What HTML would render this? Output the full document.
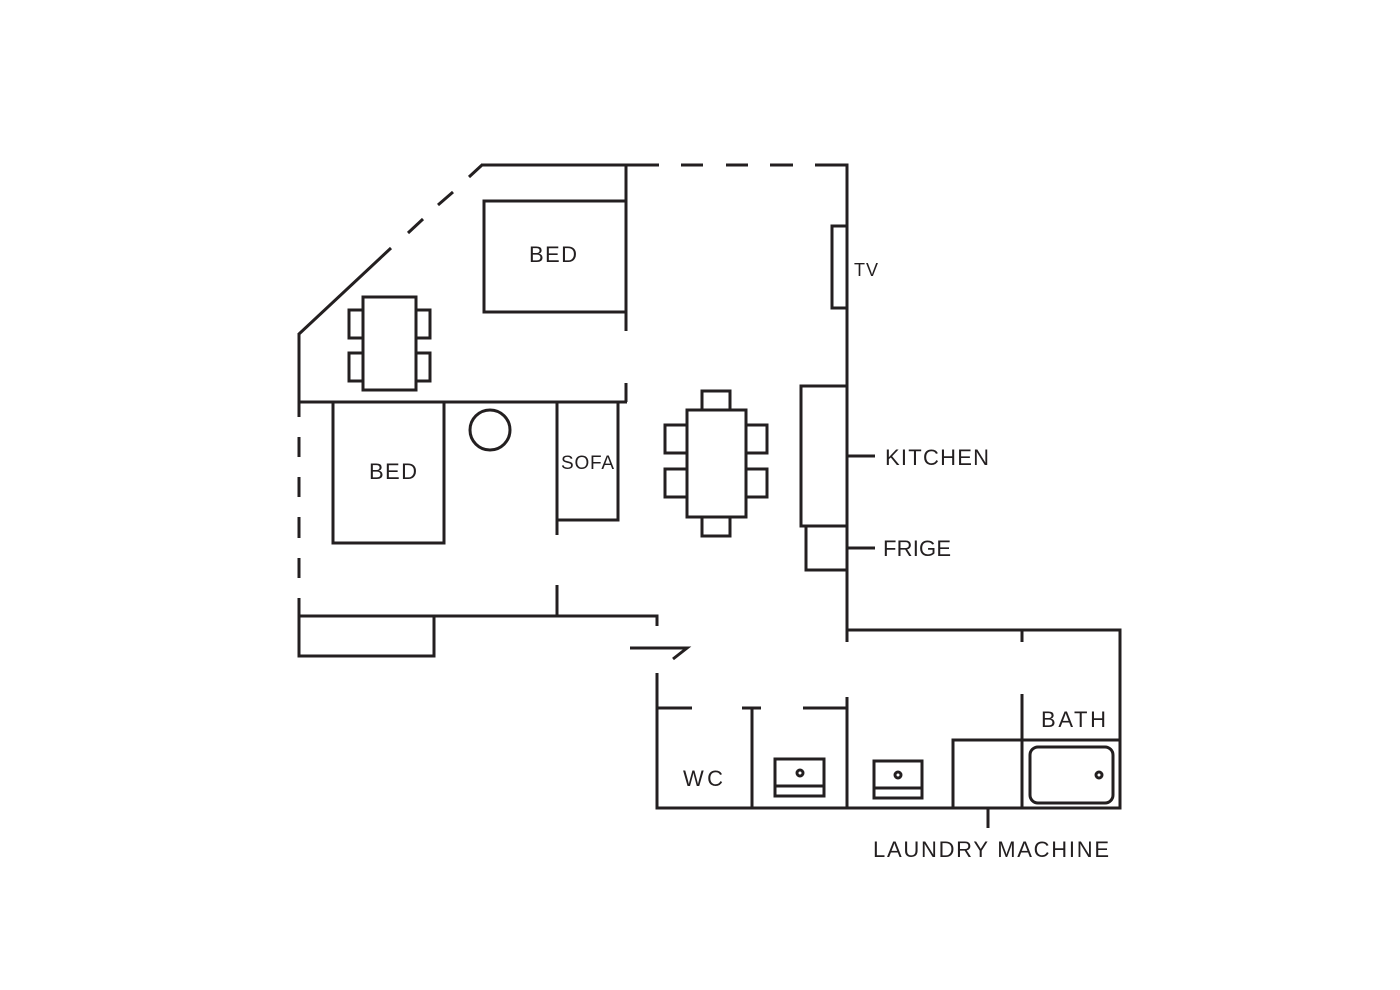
<!DOCTYPE html>
<html><head><style>html,body{margin:0;padding:0;background:#fff;}svg{display:block}</style></head><body>
<svg width="1400" height="990" viewBox="0 0 1400 990" xmlns="http://www.w3.org/2000/svg">
<g fill="none" stroke="#231f20" stroke-width="3" stroke-linecap="butt">
<!-- diagonal -->
<line x1="299" y1="334" x2="391" y2="248"/>
<line x1="408" y1="233" x2="423" y2="219"/>
<line x1="438" y1="205" x2="453" y2="192"/>
<line x1="469" y1="177" x2="482" y2="165"/>
<!-- top -->
<line x1="481" y1="165" x2="659" y2="165"/>
<line x1="681" y1="165" x2="703" y2="165"/>
<line x1="726" y1="165" x2="748" y2="165"/>
<line x1="770" y1="165" x2="793" y2="165"/>
<polyline points="815,165 847,165 847,642"/>
<!-- left wall -->
<line x1="299" y1="333" x2="299" y2="417"/>
<line x1="299" y1="437" x2="299" y2="457"/>
<line x1="299" y1="477" x2="299" y2="497"/>
<line x1="299" y1="517" x2="299" y2="538"/>
<line x1="299" y1="558" x2="299" y2="578"/>
<line x1="299" y1="598" x2="299" y2="657"/>
<!-- interior walls -->
<line x1="299" y1="402" x2="627" y2="402"/>
<line x1="626" y1="165" x2="626" y2="331"/>
<line x1="626" y1="383" x2="626" y2="402"/>
<rect x="484" y="201" width="142" height="111"/>
<rect x="333" y="402" width="111" height="141"/>
<circle cx="490" cy="430" r="20"/>
<polyline points="557,402 557,535"/>
<polyline points="557,402 618,402 618,520 557,520"/>
<line x1="557" y1="585" x2="557" y2="616"/>
<polyline points="299,616 657,616 657,626"/>
<rect x="299" y="616" width="135" height="40"/>
<polyline points="630,648 687,648 673,659"/>
<!-- small table -->
<rect x="363" y="297" width="53" height="93"/>
<rect x="349" y="310" width="14" height="28"/>
<rect x="349" y="353" width="14" height="28"/>
<rect x="416" y="310" width="14" height="28"/>
<rect x="416" y="353" width="14" height="28"/>
<!-- dining -->
<rect x="687" y="410" width="59" height="107"/>
<rect x="702" y="391" width="28" height="19"/>
<rect x="702" y="517" width="28" height="19"/>
<rect x="665" y="425" width="22" height="28"/>
<rect x="665" y="469" width="22" height="28"/>
<rect x="746" y="425" width="21" height="28"/>
<rect x="746" y="469" width="21" height="28"/>
<!-- kitchen -->
<rect x="801" y="386" width="46" height="140"/>
<rect x="806" y="526" width="41" height="44"/>
<line x1="847" y1="456" x2="875" y2="456"/>
<line x1="847" y1="548" x2="875" y2="548"/>
<rect x="832" y="226" width="15" height="82"/>
<!-- bathroom zone -->
<polyline points="847,630 1120,630 1120,808 657,808 657,673"/>
<line x1="1022" y1="630" x2="1022" y2="642"/>
<line x1="1022" y1="694" x2="1022" y2="808"/>
<line x1="847" y1="697" x2="847" y2="808"/>
<line x1="657" y1="708" x2="692" y2="708"/>
<line x1="742" y1="708" x2="761" y2="708"/>
<line x1="803" y1="708" x2="847" y2="708"/>
<line x1="752" y1="708" x2="752" y2="808"/>
<rect x="953" y="740" width="69" height="68"/>
<line x1="1022" y1="740" x2="1120" y2="740"/>
<rect x="1030" y="747" width="83" height="56" rx="8"/>
<circle cx="1099" cy="775" r="3"/>
<rect x="775" y="759" width="49" height="37"/>
<line x1="775" y1="786" x2="824" y2="786"/>
<circle cx="800" cy="773" r="3"/>
<rect x="874" y="761" width="48" height="37"/>
<line x1="874" y1="788" x2="922" y2="788"/>
<circle cx="898" cy="775" r="3"/>
<line x1="988" y1="808" x2="988" y2="828"/>
</g>
<g fill="#231f20" font-family="'Liberation Sans', sans-serif" font-size="22" letter-spacing="1">
<text x="529" y="262" textLength="49">BED</text>
<text x="369" y="479" textLength="49">BED</text>
<text x="561" y="469" font-size="19" textLength="54">SOFA</text>
<text x="854" y="276" font-size="18" textLength="25">TV</text>
<text x="885" y="465" textLength="105">KITCHEN</text>
<text x="883" y="556" textLength="69">FRIGE</text>
<text x="1041" y="727" textLength="66">BATH</text>
<text x="683" y="786" textLength="41">WC</text>
<text x="873" y="857" textLength="237">LAUNDRY MACHINE</text>
</g>
</svg>
</body></html>
